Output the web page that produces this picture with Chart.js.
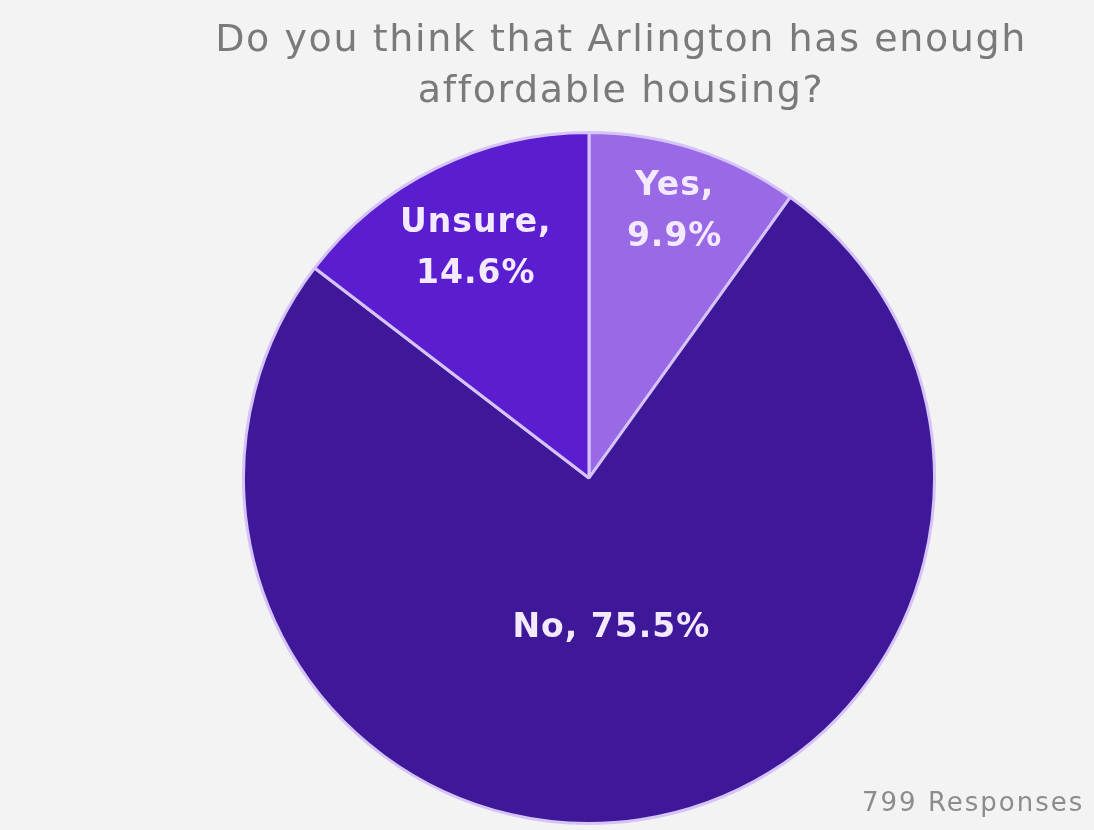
<!DOCTYPE html>
<html>
<head>
<meta charset="utf-8">
<script src="https://cdn.jsdelivr.net/npm/chart.js@4/dist/chart.umd.min.js"></script>
<style>
  html, body { margin: 0; padding: 0; background: #f3f3f3; overflow: hidden; }
  #wrap { position: relative; width: 1094px; height: 830px; }
  #title {
    position: absolute; left: 148px; top: 13px; width: 946px;
    text-align: center; color: #7a7a7a; letter-spacing: 1.6px;
    font-family: "DejaVu Sans", sans-serif; font-size: 38px; line-height: 51px;
  }
  #note {
    position: absolute; left: 862px; top: 787px; white-space: nowrap;
    color: #8c8c8c; font-family: "DejaVu Sans", sans-serif; font-size: 26px;
    letter-spacing: 2px;
  }
  canvas { position: absolute; left: 0; top: 0; }
</style>
</head>
<body>
<div id="wrap">
  <canvas id="chart" width="1094" height="830" style="width:1094px;height:830px"></canvas>
  <div id="title">Do you think that Arlington has enough<br>affordable housing?</div>
  <div id="note">799 Responses</div>
</div>
<script>
// Survey answers
const answers = ["Yes", "No", "Unsure"];
const shares = [9.9, 75.5, 14.6];
const sliceColors = ["#9a6ae6", "#3f1799", "#5a1dcf"];

// Label lines drawn inside each slice
const labelLines = [["Yes,", "9.9%"], ["No, 75.5%"], ["Unsure,", "14.6%"]];
const labelRadius = [0.81, 0.44, 0.74];

const sliceLabels = {
    id: "sliceLabels",
    afterDatasetsDraw(chart) {
        const ctx = chart.ctx;
        const arcs = chart.getDatasetMeta(0).data;
        ctx.save();
        ctx.fillStyle = "#f3eaff";
        ctx.font = "bold 33px 'DejaVu Sans', sans-serif";
        ctx.letterSpacing = "1px";
        ctx.textAlign = "center";
        ctx.textBaseline = "middle";
        arcs.forEach((arc, i) => {
            const mid = (arc.startAngle + arc.endAngle) / 2;
            const r = arc.outerRadius * labelRadius[i];
            const x = arc.x + Math.cos(mid) * r;
            const y = arc.y + Math.sin(mid) * r;
            const lines = labelLines[i];
            const lh = 51;
            lines.forEach((t, k) => {
                ctx.fillText(t, x, y + (k - (lines.length - 1) / 2) * lh);
            });
        });
        ctx.restore();
    }
};

new Chart(document.getElementById("chart"), {
    type: "pie",
    data: {
        labels: answers,
        datasets: [{
            data: shares,
            backgroundColor: sliceColors,
            borderColor: "#d6c4f8",
            borderWidth: 3
        }]
    },
    options: {
        responsive: false,
        animation: false,
        layout: { padding: { left: 242, right: 158, top: 131, bottom: 5 } },
        plugins: {
            legend: { display: false },
            title: { display: false },
            tooltip: { enabled: false }
        }
    },
    plugins: [sliceLabels]
});
</script>
</body>
</html>
